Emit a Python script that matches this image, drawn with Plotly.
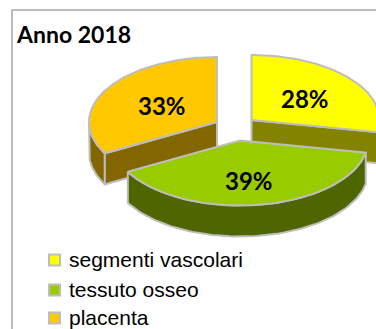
import numpy as np
import plotly.graph_objects as go

categories = ["segmenti vascolari", "tessuto osseo", "placenta"]
values = [28, 39, 33]
title_text = "Anno 2018"

top_colors = ["#FFFF00", "#99CC00", "#FFC800"]
side_colors = ["#838300", "#4F6600", "#846600"]
edge = "#BDBDBD"
apexes = [(251.5, 120), (240, 140.5), (217, 122)]
label_pos = [(305, 98), (249, 180), (162, 105)]
legend_y = [260, 290, 318]
RX, RY, DEPTH = 128, 65, 31

fig = go.Figure()


def rim(apex, a0, a1):
    t = np.radians(np.linspace(a0, a1, 90))
    return apex[0] + RX * np.sin(t), apex[1] - RY * np.cos(t)


def poly(xs, ys, fill):
    fig.add_trace(go.Scatter(x=list(xs), y=list(ys), mode="lines", fill="toself",
                             fillcolor=fill, line=dict(color=edge, width=2),
                             hoverinfo="skip", showlegend=False))


def wall(apex, ang, fill):
    x, y = rim(apex, ang, ang)
    poly([apex[0], x[0], x[0], apex[0], apex[0]],
         [apex[1], y[0], y[0] + DEPTH, apex[1] + DEPTH, apex[1]], fill)


def outer(apex, a0, a1, fill):
    x, y = rim(apex, a0, a1)
    poly(np.r_[x, x[::-1], x[0]], np.r_[y, y[::-1] + DEPTH, y[0]], fill)


total = sum(values)
edges = np.r_[0, np.cumsum(values)] * 360 / total

# draw back to front: yellow, orange, green
for i in [0, 2, 1]:
    a0, a1 = edges[i], edges[i + 1]
    ap = apexes[i]
    if i == 0:
        wall(ap, a1, side_colors[i])
        outer(ap, max(a0, 90), min(a1, 180), side_colors[i])
    elif i == 1:
        outer(ap, a0, a1, side_colors[i])
    else:
        outer(ap, a0, 270, side_colors[i])
        wall(ap, a0, side_colors[i])
    x, y = rim(ap, a0, a1)
    poly(np.r_[ap[0], x, ap[0]], np.r_[ap[1], y, ap[1]], top_colors[i])

# legend swatches
fig.add_trace(go.Scatter(x=[54.5] * 3, y=legend_y, mode="markers",
                         marker=dict(symbol="square", size=11, color=top_colors,
                                     line=dict(color=edge, width=2)),
                         hoverinfo="skip", showlegend=False))

ann = []
for name, yy in zip(categories, legend_y):
    ann.append(dict(x=67, y=yy - 1, text=name, showarrow=False, xanchor="left", yanchor="middle",
                    font=dict(family="Liberation Sans", size=21, color="#000000")))
for v, (lx, ly) in zip(values, label_pos):
    ann.append(dict(x=lx, y=ly, text=f"{v}%", showarrow=False, xanchor="center", yanchor="middle",
                    font=dict(family="Lato", size=24, color="#000000", weight="bold")))
ann.append(dict(x=14, y=34, text=title_text, showarrow=False, xanchor="left", yanchor="middle",
                font=dict(family="Lato", size=23, color="#000000", weight="bold")))

fig.update_layout(
    width=376, height=329, margin=dict(l=0, r=0, t=0, b=0),
    paper_bgcolor="#FFFFFF", plot_bgcolor="#FFFFFF",
    xaxis=dict(range=[0, 376], visible=False, fixedrange=True),
    yaxis=dict(range=[329, 0], visible=False, fixedrange=True),
    annotations=ann,
    shapes=[dict(type="line", x0=12, x1=12, y0=10, y1=329, line=dict(color="#A6A6A6", width=1.5)),
            dict(type="line", x0=12, x1=376, y0=10, y1=10, line=dict(color="#A6A6A6", width=1.5))],
)
fig.write_html("out.html", config={"displayModeBar": False},
               post_script="document.body.style.margin='0';document.body.style.overflow='hidden';")
